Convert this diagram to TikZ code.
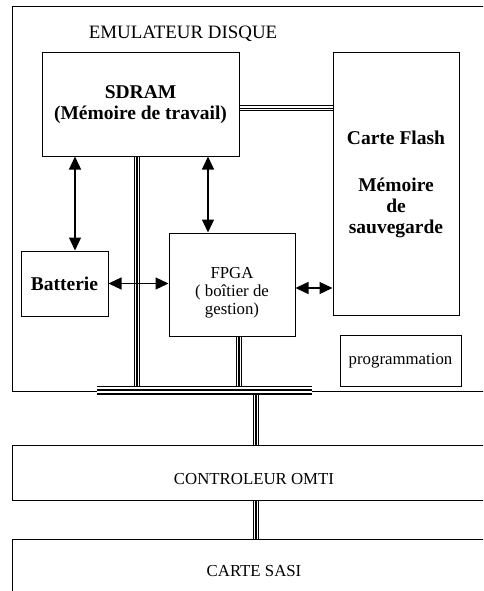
\documentclass[tikz,border=0pt]{standalone}
\usepackage{fontspec}
\setmainfont{Liberation Serif}
\usepackage{tikz}
\usetikzlibrary{arrows.meta}
\newcommand{\lblfont}{\fontsize{16.8}{18}\selectfont}
\newcommand{\bldfont}{\fontsize{19.5}{21}\selectfont\bfseries}

\begin{document}
\begin{tikzpicture}[x=1pt,y=-1pt,
  box/.style={draw,line width=1pt,inner sep=0pt,align=center,font=\lblfont},
  bbox/.style={box,font=\bldfont},
  arr/.style={line width=1.3pt,>={Triangle[length=13pt,width=12pt]},<->},
  bus/.style={line width=6pt,postaction={draw=white,line width=4pt},postaction={draw=black,line width=1.2pt}},
  mainbus/.style={line width=9pt,postaction={draw=white,line width=6.6pt},postaction={draw=black,line width=1.4pt}}]
\useasboundingbox (0,0) rectangle (483,591);
\clip (0,0) rectangle (483,591);
% outside boxes
\node[box,minimum width=484pt,minimum height=55pt,text height=24pt] (omti) at (254,472.5) {CONTROLEUR OMTI};
\node[box,minimum width=484pt,minimum height=64pt] (sasi) at (254,571) {CARTE SASI};
\node[box,minimum width=484pt,minimum height=384pt] (emu) at (254,199) {};
\node[font=\fontsize{18.9}{20}\selectfont] (title) at (183,34) {EMULATEUR DISQUE};
% inside boxes
\node[bbox,minimum width=197pt,minimum height=103pt] (sdram) at (140.5,104.5) {SDRAM\\(Mémoire de travail)};
\node[bbox,minimum width=126pt,minimum height=262pt] (flash) at (396,184) {Carte Flash\\[26pt]Mémoire\\de\\sauvegarde};
\node[bbox,minimum width=87pt,minimum height=65pt] (batt) at (64.5,283.5) {Batterie};
\node[box,minimum width=126pt,minimum height=103pt,text height=64pt] (fpga) at (232,284.5) {FPGA\\( boîtier de\\gestion)};
\node[box,minimum width=121pt,minimum height=51pt] (prog) at (400.5,360.5) {programmation};
% bus ends
\coordinate (busL) at (97,390);
\coordinate (busR) at (312,390);
% vertical buses
\draw[bus] (sdram.south -| 137,0) -- (busL -| 137,0);
\draw[bus] (fpga.south -| 239,0) -- (busL -| 239,0);
\draw[bus] (busL -| 256,0) -- (omti.north -| 256,0);
\draw[bus] (omti.south -| 256,0) -- (sasi.north -| 256,0);
% horizontal buses
\draw[bus] ([yshift=-4pt]sdram.east) -- ([yshift=-4pt]sdram.east -| flash.west);
\draw[mainbus] (busL) -- (busR);
% arrows
\draw[arr] (sdram.south -| 75,0) -- (batt.north -| 75,0);
\draw[arr] (sdram.south -| 208,0) -- (fpga.north -| 208,0);
\draw[arr] (batt.east) -- (batt.east -| fpga.west);
\draw[arr] ([yshift=-3.5pt]fpga.east) -- ([yshift=-3.5pt]fpga.east -| flash.west);
\end{tikzpicture}
\end{document}
